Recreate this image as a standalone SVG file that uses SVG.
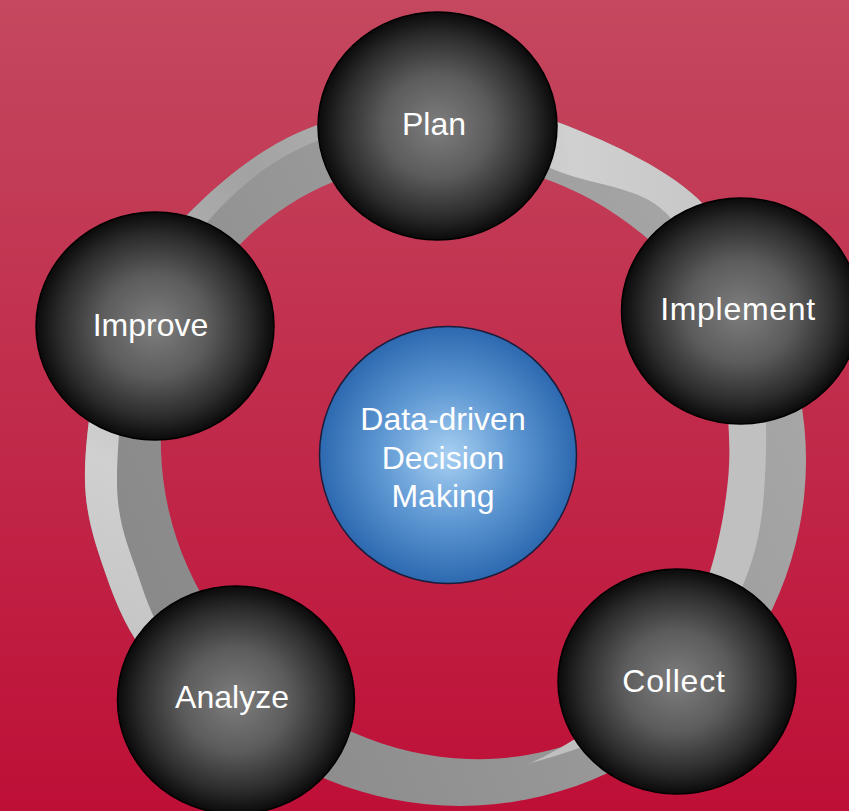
<svg xmlns="http://www.w3.org/2000/svg" width="849" height="811" viewBox="0 0 849 811">
<defs>
  <linearGradient id="bg" x1="0" y1="0" x2="0" y2="1">
    <stop offset="0" stop-color="#c4485f"/>
    <stop offset="1" stop-color="#be0f37"/>
  </linearGradient>
  <radialGradient id="sphere" cx="0.5" cy="0.5" r="0.5">
    <stop offset="0" stop-color="#7e7e7e"/>
    <stop offset="0.45" stop-color="#5c5c5c"/>
    <stop offset="0.8" stop-color="#2c2c2c"/>
    <stop offset="1" stop-color="#0a0a0a"/>
  </radialGradient>
  <radialGradient id="blue" cx="0.5" cy="0.5" r="0.5">
    <stop offset="0" stop-color="#a8d0f2"/>
    <stop offset="0.5" stop-color="#619ad4"/>
    <stop offset="1" stop-color="#2d69b0"/>
  </radialGradient>
  <radialGradient id="gL" gradientUnits="userSpaceOnUse" cx="250" cy="170" r="560">
    <stop offset="0" stop-color="#a2a2a2"/>
    <stop offset="0.25" stop-color="#b2b2b2"/>
    <stop offset="0.58" stop-color="#d0d0d0"/>
    <stop offset="1" stop-color="#c0c0c0"/>
  </radialGradient>
  <linearGradient id="gD" gradientUnits="userSpaceOnUse" x1="800" y1="300" x2="120" y2="620">
    <stop offset="0" stop-color="#a8a8a8"/>
    <stop offset="1" stop-color="#888888"/>
  </linearGradient>
  <path id="ringOuter" d="M85,470 C86.2,427.5 95.5,363 113,320 C130.5,277 158.8,243.3 190,212 C221.2,180.7 258.3,150.2 300,132 C341.7,113.8 397.2,104.7 440,103 C482.8,101.3 514.2,106.2 557,122 C599.8,137.8 664.5,166.7 697,198 C729.5,229.3 740.5,268 752,310 C763.5,352 767.2,405 766,450 C764.8,495 762.7,536.7 745,580 C727.3,623.3 710.8,677 660,710 C609.2,743 511.7,774.7 440,778 C368.3,781.3 278.3,749.7 230,730 C181.7,710.3 170.7,685.8 150,660 C129.3,634.2 116.8,606.7 106,575 C95.2,543.3 83.8,512.5 85,470 Z"/>
  <mask id="mD" maskUnits="userSpaceOnUse" x="0" y="0" width="849" height="811">
    <circle cx="460" cy="460" r="346" fill="#fff"/>
    <use href="#ringOuter" fill="#fff"/>
    <ellipse cx="460" cy="460" rx="308" ry="290" transform="rotate(45 460 460)" fill="#000"/>
  </mask>
  <mask id="mL" maskUnits="userSpaceOnUse" x="0" y="0" width="849" height="811">
    <use href="#ringOuter" fill="#fff"/>
    <path fill="#000" d="M117,480 C117.3,439.2 122.8,375.3 140,330 C157.2,284.7 190,239.7 220,208 C250,176.3 283.3,153.3 320,140 C356.7,126.7 400,122.7 440,128 C480,133.3 522.5,158 560,172 C597.5,186 639.7,187.3 665,212 C690.3,236.7 701.5,275.3 712,320 C722.5,364.7 733.3,426.7 728,480 C722.7,533.3 708,595.3 680,640 C652,684.7 602.5,723.7 560,748 C517.5,772.3 473.3,786.5 425,786 C376.7,785.5 311.7,767.7 270,745 C228.3,722.3 197,678.3 175,650 C153,621.7 147.7,603.3 138,575 C128.3,546.7 116.7,520.8 117,480 Z"/>
  </mask>
  <style>
    .sph { fill: url(#sphere); stroke: #000; stroke-width: 1.5; }
    .lbl { font-family: "Liberation Sans", Arial, sans-serif; font-size: 32px; fill: #ffffff; text-anchor: middle; }
  </style>
</defs>

<rect x="0" y="0" width="849" height="811" fill="url(#bg)"/>

<g id="connectors">
  <rect x="0" y="0" width="849" height="811" fill="url(#gD)" mask="url(#mD)"/>
  <rect x="0" y="0" width="849" height="811" fill="url(#gL)" mask="url(#mL)"/>
</g>

<g id="plan">
  <ellipse class="sph" cx="437.5" cy="126" rx="119.5" ry="114"/>
  <text class="lbl" x="434" y="135">Plan</text>
</g>
<g id="implement">
  <ellipse class="sph" cx="740.5" cy="311" rx="119" ry="113"/>
  <text class="lbl" x="738" y="320" letter-spacing="0.7">Implement</text>
</g>
<g id="collect">
  <ellipse class="sph" cx="677" cy="681.5" rx="119" ry="112.5"/>
  <text class="lbl" x="674" y="692" letter-spacing="0.8">Collect</text>
</g>
<g id="analyze">
  <ellipse class="sph" cx="236" cy="700" rx="118.5" ry="114"/>
  <text class="lbl" x="232" y="708">Analyze</text>
</g>
<g id="improve">
  <ellipse class="sph" cx="155" cy="326" rx="119" ry="114"/>
  <text class="lbl" x="150.5" y="336">Improve</text>
</g>
<g id="center">
  <circle cx="448" cy="455" r="128.5" fill="url(#blue)" stroke="#1c1c3c" stroke-width="1.5"/>
  <text class="lbl" x="443" y="430">Data-driven</text>
  <text class="lbl" x="443" y="469">Decision</text>
  <text class="lbl" x="443" y="507">Making</text>
</g>
</svg>
